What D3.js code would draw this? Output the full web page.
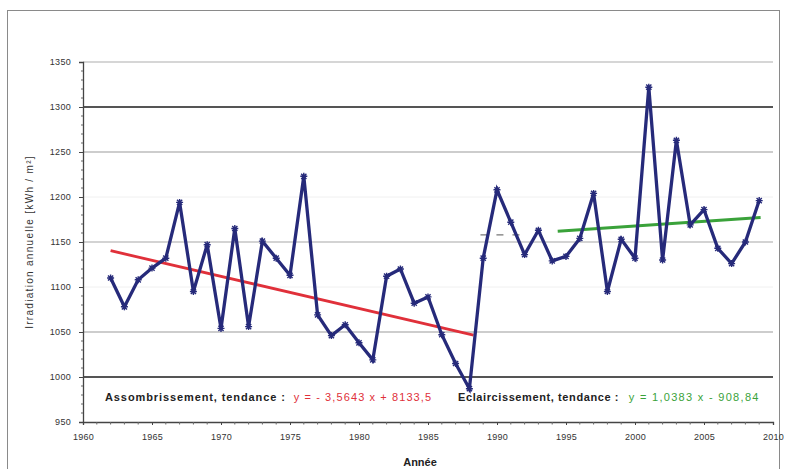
<!DOCTYPE html>
<html><head><meta charset="utf-8">
<script src="https://cdn.jsdelivr.net/npm/d3@7"></script>
<style>body{margin:0;background:#fff;}svg{display:block;font-family:"Liberation Sans",Arial,sans-serif;}</style>
</head><body>
<svg id="c" width="791" height="469"></svg>
<script>
const years = [1962,1963,1964,1965,1966,1967,1968,1969,1970,1971,1972,1973,1974,1975,1976,1977,1978,1979,1980,1981,1982,1983,1984,1985,1986,1987,1988,1989,1990,1991,1992,1993,1994,1995,1996,1997,1998,1999,2000,2001,2002,2003,2004,2005,2006,2007,2008,2009];
const irradiation = [1110,1078,1108,1121,1132,1194,1095,1147,1054,1165,1056,1151,1132,1113,1223,1069,1046,1058,1038,1019,1112,1120,1082,1089,1047,1015,987,1132,1208,1172,1136,1163,1129,1134,1154,1204,1095,1153,1132,1322,1130,1263,1169,1186,1143,1126,1150,1196];
const yTicks = [950,1000,1050,1100,1150,1200,1250,1300,1350];
const xTicks = [1960,1965,1970,1975,1980,1985,1990,1995,2000,2005,2010];
const trendDark = {years:[1962,1988.3], slope:-3.5643, intercept:8133.5};
const trendLight = {years:[1994.4,2009.1], slope:1.0383, intercept:-908.84};
const dashYears = [1988.8,1991.9], dashValue = [1158,1158];
const labelDark = ["Assombrissement, tendance : ", "y = - 3,5643 x + 8133,5"];
const labelLight = ["Eclaircissement, tendance : ", "y = 1,0383 x - 908,84"];

const svg = d3.select("#c");
const x = d3.scaleLinear().domain([1960,2010]).range([83,773]);
const y = d3.scaleLinear().domain([950,1350]).range([422,62]);

// outer frame
svg.append("rect").attr("x",7.5).attr("y",10.5).attr("width",772).attr("height",480)
  .attr("fill","none").attr("stroke","#8a8a8a").attr("stroke-width",1);

// gridlines
const gridStyle = {1000:["#555",2],1050:["#bdbdbd",1.5],1100:["#f0f0f0",1],1150:["#c4c4c4",1.5],1200:["#f0f0f0",1],1250:["#bdbdbd",1.5],1300:["#555",2],1350:["#c8c8c8",1.5]};
svg.append("g").selectAll("line").data(yTicks.filter(d=>d>950)).join("line")
  .attr("x1",x(1960)).attr("x2",x(2010)).attr("y1",d=>y(d)).attr("y2",d=>y(d))
  .attr("stroke",d=>gridStyle[d][0]).attr("stroke-width",d=>gridStyle[d][1]);

// dashed short segment
svg.append("line").attr("x1",x(dashYears[0])).attr("x2",x(dashYears[1]))
  .attr("y1",y(dashValue[0])).attr("y2",y(dashValue[1]))
  .attr("stroke","#777").attr("stroke-width",1.2).attr("stroke-dasharray","7,9");

// Y axis
const yAxis = d3.axisLeft(y).tickValues(yTicks).tickSize(4).tickPadding(8).tickFormat(d3.format("d"));
const gy = svg.append("g").attr("transform",`translate(${x(1960)},0)`).call(yAxis);
gy.select(".domain").attr("stroke","#444").attr("stroke-width",1.3);
gy.selectAll(".tick line").attr("stroke","#444");
gy.selectAll("text").attr("font-size",9).attr("fill","#333").attr("letter-spacing",0.3);
const yMinor = d3.range(960,1350,10).filter(v=>v%50!==0);
svg.append("g").selectAll("line").data(yMinor).join("line")
  .attr("x1",x(1960)-2).attr("x2",x(1960)).attr("y1",d=>y(d)).attr("y2",d=>y(d)).attr("stroke","#666");

// X axis
const xAxis = d3.axisBottom(x).tickValues(xTicks).tickSize(3).tickPadding(9).tickFormat(d3.format("d"));
const gx = svg.append("g").attr("transform",`translate(0,${y(950)})`).call(xAxis);
gx.select(".domain").attr("stroke","#444").attr("stroke-width",1.3);
gx.selectAll(".tick line").attr("stroke","#444");
gx.selectAll("text").attr("font-size",9).attr("fill","#333").attr("letter-spacing",0.3);
svg.append("g").selectAll("line").data(d3.range(1961,2010).filter(v=>v%5!==0)).join("line")
  .attr("x1",d=>x(d)).attr("x2",d=>x(d)).attr("y1",y(950)).attr("y2",y(950)+2.5).attr("stroke","#666");

// axis titles
svg.append("text").attr("transform",`translate(33,${y(1150)}) rotate(-90)`).attr("text-anchor","middle")
  .attr("font-size",10).attr("letter-spacing",1.3).attr("fill","#333").text("Irradiation annuelle [kWh / m²]");
svg.append("text").attr("x",420).attr("y",466).attr("text-anchor","middle")
  .attr("font-size",11).attr("font-weight","bold").attr("fill","#222").text("Année");

// trend lines
function trend(t,color){
  svg.append("line").attr("x1",x(t.years[0])).attr("x2",x(t.years[1]))
    .attr("y1",y(t.slope*t.years[0]+t.intercept)).attr("y2",y(t.slope*t.years[1]+t.intercept))
    .attr("stroke",color).attr("stroke-width",2.8);
}
trend(trendDark,"#e0303a");
trend(trendLight,"#3aa23a");

// data line
const pts = years.map((yr,i)=>[yr,irradiation[i]]);
svg.append("path").datum(pts).attr("fill","none").attr("stroke","#262a7a").attr("stroke-width",3.3)
  .attr("stroke-linejoin","miter").attr("d",d3.line().x(d=>x(d[0])).y(d=>y(d[1])));
const mk = svg.append("g").selectAll("g").data(pts).join("g")
  .attr("transform",d=>`translate(${x(d[0])},${y(d[1])})`);
mk.append("path").attr("d","M-3.5,0H3.5M0,-3.5V3.5M-2.6,-2.6L2.6,2.6M-2.6,2.6L2.6,-2.6")
  .attr("stroke","#262a7a").attr("stroke-width",1.4);

// annotations
const t1 = svg.append("text").attr("x",105).attr("y",401).attr("font-size",11).attr("letter-spacing",0.9).attr("font-weight","bold");
t1.append("tspan").attr("fill","#222").text(labelDark[0]);
t1.append("tspan").attr("fill","#e0303a").attr("font-weight","normal").attr("letter-spacing",1.1).attr("dx",4).text(labelDark[1]);
const t2 = svg.append("text").attr("x",458).attr("y",401).attr("font-size",11).attr("letter-spacing",0.6).attr("font-weight","bold");
t2.append("tspan").attr("fill","#222").text(labelLight[0]);
t2.append("tspan").attr("fill","#3aa23a").attr("font-weight","normal").attr("letter-spacing",1.3).attr("dx",6).text(labelLight[1]);
</script>
</body></html>
